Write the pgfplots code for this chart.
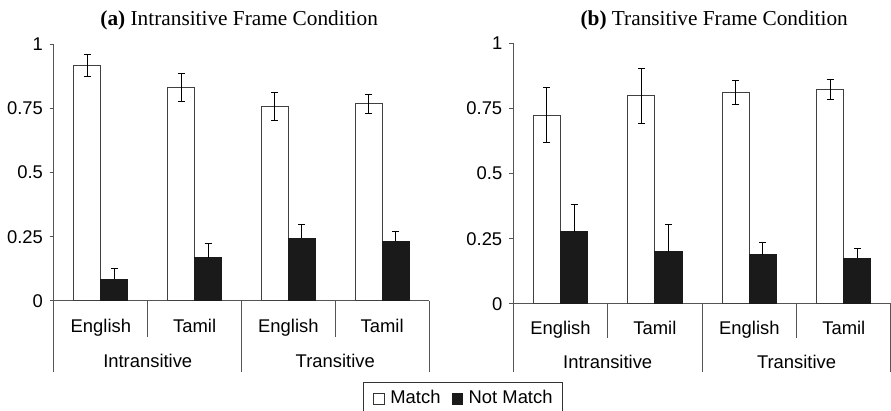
\documentclass[border=0pt]{standalone}
\usepackage{fontspec}
\setmainfont{Liberation Sans}
\newfontfamily\tnr{Liberation Serif}
\usepackage{pgfplots}
\pgfplotsset{compat=1.18}
\definecolor{barblack}{HTML}{1A1A1A}
\definecolor{axgray}{HTML}{555555}
\pgfplotsset{
  panel/.style={
    scale only axis, anchor=south west, clip=false,
    xmin=-0.5, xmax=3.5, ymin=0, ymax=1, enlargelimits=false,
    axis lines*=left, axis line style={axgray, line width=0.5pt},
    xtick=\empty,
    ytick={0,0.25,0.5,0.75,1}, yticklabels={0,0.25,0.5,0.75,1},
    tick align=outside, major tick length=2pt,
    tick style={axgray, line width=0.5pt},
    /pgf/number format/assume math mode=true,
    ticklabel style={font=\fontsize{9.2}{11}\selectfont},
  },
  matchbar/.style={ybar, bar width=0.288, bar shift=0pt, fill=white, draw=black!75, line width=0.5pt,
    legend image code/.code={\path (-1.4pt,0pt) (6.7pt,0pt);\draw[fill=white, draw=black!80, line width=0.4pt] (0pt,-2.65pt) rectangle (5.3pt,2.65pt);},
    error bars/.cd, y dir=both, y explicit,
    error bar style={black, line width=0.5pt},
    error mark options={black, line width=0.5pt, mark size=1.75pt, rotate=90}},
  nomatchbar/.style={ybar, bar width=0.288, bar shift=0pt, fill=barblack, draw=barblack, line width=0.5pt,
    legend image code/.code={\path (-1.4pt,0pt) (6.7pt,0pt);\draw[fill=barblack, draw=barblack, line width=0.4pt] (0pt,-2.65pt) rectangle (5.3pt,2.65pt);},
    error bars/.cd, y dir=plus, y explicit,
    error bar style={black, line width=0.5pt},
    error mark options={black, line width=0.5pt, mark size=1.75pt, rotate=90}},
}
\begin{document}
\begin{tikzpicture}
\path[use as bounding box] (0,0) rectangle (445.5pt,-205.5pt);
% ---------- panel (a)
\begin{axis}[panel, at={(27pt,-150.5pt)}, width=187.5pt, height=128.5pt,
  legend columns=2,
  legend style={at={(0.8232,-0.3152)}, anchor=north west, draw=black!80, line width=0.5pt,
    inner xsep=3.6pt, inner ysep=2.65pt,
    nodes={inner sep=1.4pt, text depth=0.15em},
    font=\fontsize{9.2}{11}\selectfont,
    /tikz/every even column/.append style={column sep=2.7pt}},
]
\addplot[matchbar] coordinates {(-0.144,0.916) +- (0,0.044) (0.856,0.831) +- (0,0.054) (1.856,0.757) +- (0,0.053) (2.856,0.768) +- (0,0.037)};
\addplot[nomatchbar] coordinates {(0.144,0.085) +- (0,0.042) (1.144,0.168) +- (0,0.054) (2.144,0.244) +- (0,0.053) (3.144,0.233) +- (0,0.037)};
\legend{Match, Not Match}
\draw[axgray, line width=0.5pt] (axis cs:0.5,0) -- ++(0pt,-18pt) (axis cs:2.5,0) -- ++(0pt,-18pt);
\draw[axgray, line width=0.5pt] (axis cs:-0.5,0) -- ++(0pt,-35.5pt) (axis cs:1.5,0) -- ++(0pt,-35.5pt) (axis cs:3.5,0) -- ++(0pt,-35.5pt);
\begin{scope}[every node/.style={anchor=base, inner sep=0pt, font=\fontsize{9.2}{11}\selectfont}]
\node at ([yshift=-15.85pt]axis cs:0,0) {English};
\node at ([yshift=-15.85pt]axis cs:1,0) {Tamil};
\node at ([yshift=-15.85pt]axis cs:2,0) {English};
\node at ([yshift=-15.85pt]axis cs:3,0) {Tamil};
\node at ([yshift=-33.3pt]axis cs:0.5,0) {Intransitive};
\node at ([yshift=-33.3pt]axis cs:2.5,0) {Transitive};
\end{scope}
\end{axis}
% ---------- panel (b)
\begin{axis}[panel, at={(256.65pt,-152pt)}, width=188.85pt, height=130.35pt]
\addplot[matchbar] coordinates {(-0.144,0.724) +- (0,0.105) (0.856,0.799) +- (0,0.105) (1.856,0.812) +- (0,0.046) (2.856,0.824) +- (0,0.038)};
\addplot[nomatchbar] coordinates {(0.144,0.277) +- (0,0.104) (1.144,0.201) +- (0,0.105) (2.144,0.188) +- (0,0.046) (3.144,0.176) +- (0,0.038)};
\draw[axgray, line width=0.5pt] (axis cs:0.5,0) -- ++(0pt,-17pt) (axis cs:2.5,0) -- ++(0pt,-17pt);
\draw[axgray, line width=0.5pt] (axis cs:-0.5,0) -- ++(0pt,-34pt) (axis cs:1.5,0) -- ++(0pt,-34pt) (axis cs:3.5,0) -- ++(0pt,-34pt);
\begin{scope}[every node/.style={anchor=base, inner sep=0pt, font=\fontsize{9.2}{11}\selectfont}]
\node at ([yshift=-15.2pt]axis cs:0,0) {English};
\node at ([yshift=-15.2pt]axis cs:1,0) {Tamil};
\node at ([yshift=-15.2pt]axis cs:2,0) {English};
\node at ([yshift=-15.2pt]axis cs:3,0) {Tamil};
\node at ([yshift=-32.2pt]axis cs:0.5,0) {Intransitive};
\node at ([yshift=-32.2pt]axis cs:2.5,0) {Transitive};
\end{scope}
\end{axis}
% ---------- titles
\node[anchor=base, inner sep=0pt, font=\tnr\fontsize{10.65}{12}\selectfont] at (119.6pt,-13pt) {\textbf{(a)} Intransitive Frame Condition};
\node[anchor=base, inner sep=0pt, font=\tnr\fontsize{10.65}{12}\selectfont] at (357.1pt,-13pt) {\textbf{(b)} Transitive Frame Condition};
\end{tikzpicture}
\end{document}
